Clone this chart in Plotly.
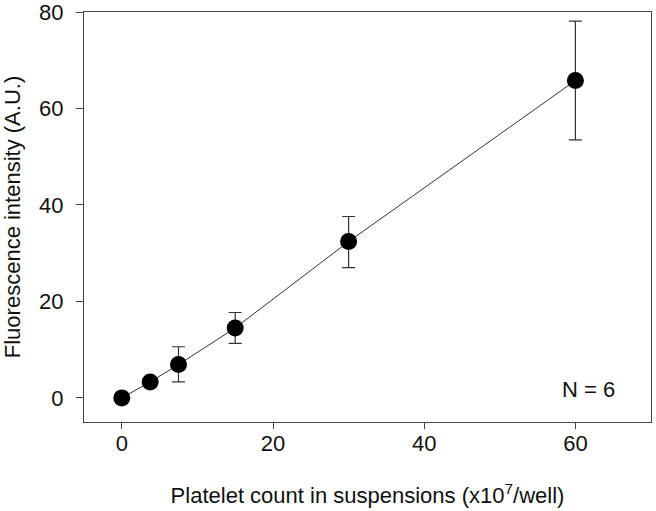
import plotly.graph_objects as go

platelet_count = [0, 3.75, 7.5, 15, 30, 60]
fluorescence = [0.0, 3.3, 6.9, 14.5, 32.4, 65.8]
err_plus = [0.3, 0.6, 3.7, 3.2, 5.2, 12.3]
err_minus = [0.3, 0.6, 3.6, 3.2, 5.4, 12.3]

x_ticks = [0, 20, 40, 60]
y_ticks = [0, 20, 40, 60, 80]

FONT = "Liberation Sans, Arial, sans-serif"
TXT = "#111111"

fig = go.Figure()
fig.add_trace(go.Scatter(
    x=platelet_count, y=fluorescence,
    mode="lines+markers",
    line=dict(color="#333333", width=1),
    marker=dict(color="black", size=17),
    error_y=dict(type="data", symmetric=False, array=err_plus, arrayminus=err_minus,
                 color="#333333", thickness=1.2, width=6.5),
    showlegend=False,
))

fig.add_annotation(x=0.94, y=0.08, xref="paper", yref="paper",
                   text="N = 6", showarrow=False, xanchor="right", yanchor="middle",
                   font=dict(family=FONT, size=22, color=TXT))

axis_common = dict(showgrid=False, zeroline=False, showline=True, linecolor="#444444",
                   linewidth=1.3, mirror=True, ticks="outside", tickcolor="#444444",
                   tickwidth=1.3, automargin=False, ticklabeloverflow="allow",
                   tickfont=dict(family=FONT, size=22, color=TXT))

fig.update_xaxes(range=[-5, 70], tickvals=x_ticks, ticklen=6, ticklabelstandoff=-5,
                 title=dict(text="Platelet count in suspensions (x10<sup>7</sup>/well)",
                            font=dict(family=FONT, size=22, color=TXT), standoff=33),
                 **axis_common)
fig.update_yaxes(range=[-5, 80], tickvals=y_ticks, ticklen=7, ticklabelstandoff=8,
                 title=dict(text="Fluorescence intensity (A.U.)",
                            font=dict(family=FONT, size=22, color=TXT), standoff=18),
                 **axis_common)

fig.update_layout(width=656, height=511, plot_bgcolor="white", paper_bgcolor="white",
                  margin=dict(l=84, r=5, t=12, b=89))

fig.write_html("out.html", config={"displayModeBar": False},
               post_script="document.body.style.margin='0';")
